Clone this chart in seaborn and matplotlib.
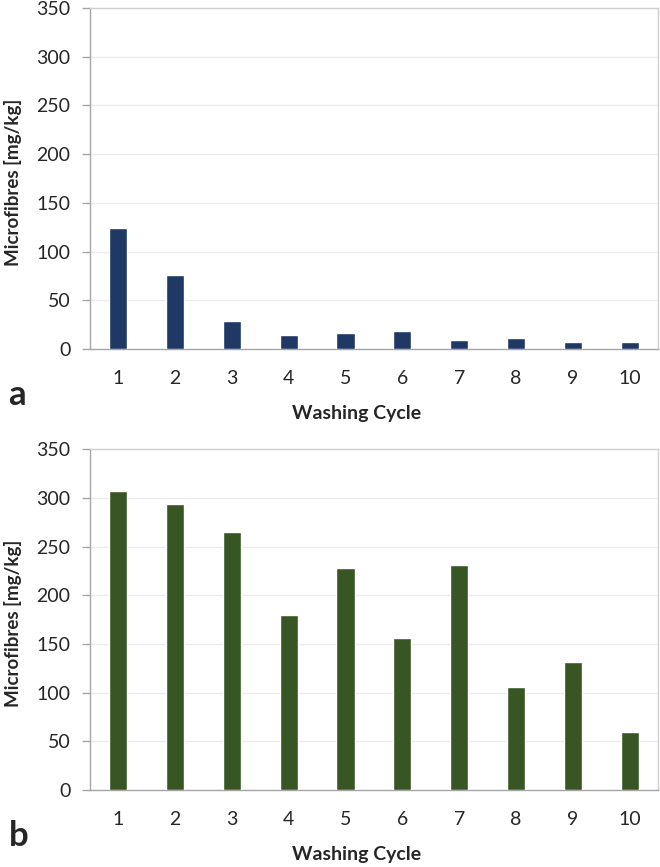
import matplotlib
matplotlib.use("Agg")
import matplotlib.pyplot as plt
import seaborn as sns
import pandas as pd

sns.set_style("white")
plt.rcParams["font.family"] = ["Lato", "DejaVu Sans"]

# -----------------------------
# DATA
# -----------------------------
cycles = ["1", "2", "3", "4", "5", "6", "7", "8", "9", "10"]
fibres_a = [124.5, 75.5, 29, 14.5, 16, 18, 9, 11, 7.5, 7.5]
fibres_b = [307, 293.5, 265.5, 180, 228.5, 156, 231, 105.5, 131, 60]
y_ticks = [0, 50, 100, 150, 200, 250, 300, 350]

df_a = pd.DataFrame({"Cycle": cycles, "Fibres": fibres_a})
df_b = pd.DataFrame({"Cycle": cycles, "Fibres": fibres_b})

fig = plt.figure(figsize=(6.6, 8.67), dpi=100)
ax_a = fig.add_axes([0.136, 0.5975, 0.861, 0.3933])
ax_b = fig.add_axes([0.136, 0.0888, 0.861, 0.3930])

panels = [(ax_a, df_a, "#1F3864", "a"), (ax_b, df_b, "#375623", "b")]

for ax, df, col, letter in panels:
    sns.barplot(data=df, x="Cycle", y="Fibres", color=col, saturation=1,
                width=0.32, ax=ax, zorder=3)
    ax.set_ylim(0, 350)
    ax.set_xlim(-0.5, 9.5)
    ax.set_yticks(y_ticks)
    ax.yaxis.grid(True, color="#EBEBEB", linewidth=1, zorder=0)
    ax.set_axisbelow(True)
    for side in ["top", "right"]:
        ax.spines[side].set_color("#D0D0D0")
        ax.spines[side].set_linewidth(1)
    for side in ["left", "bottom"]:
        ax.spines[side].set_color("#A6A6A6")
        ax.spines[side].set_linewidth(1)
    ax.tick_params(axis="y", direction="out", length=6, width=1, color="#A6A6A6",
                   labelsize=14, pad=8, left=True, labelcolor="#262626")
    ax.tick_params(axis="x", length=0, labelsize=14, pad=15, labelcolor="#262626")
    ax.set_xlabel("Washing Cycle", fontsize=14, fontweight="bold", labelpad=8)
    ax.xaxis.set_label_coords(0.47, -0.165)
    ax.set_ylabel("Microfibres [mg/kg]", fontsize=13.5, fontweight="bold", labelpad=6)
    ax.yaxis.set_label_coords(-0.12, 0.49)
    ax.text(-0.143, -0.135, letter, transform=ax.transAxes, fontsize=25,
            fontweight="bold", ha="left", va="center")

fig.savefig("out.png", dpi=100)
